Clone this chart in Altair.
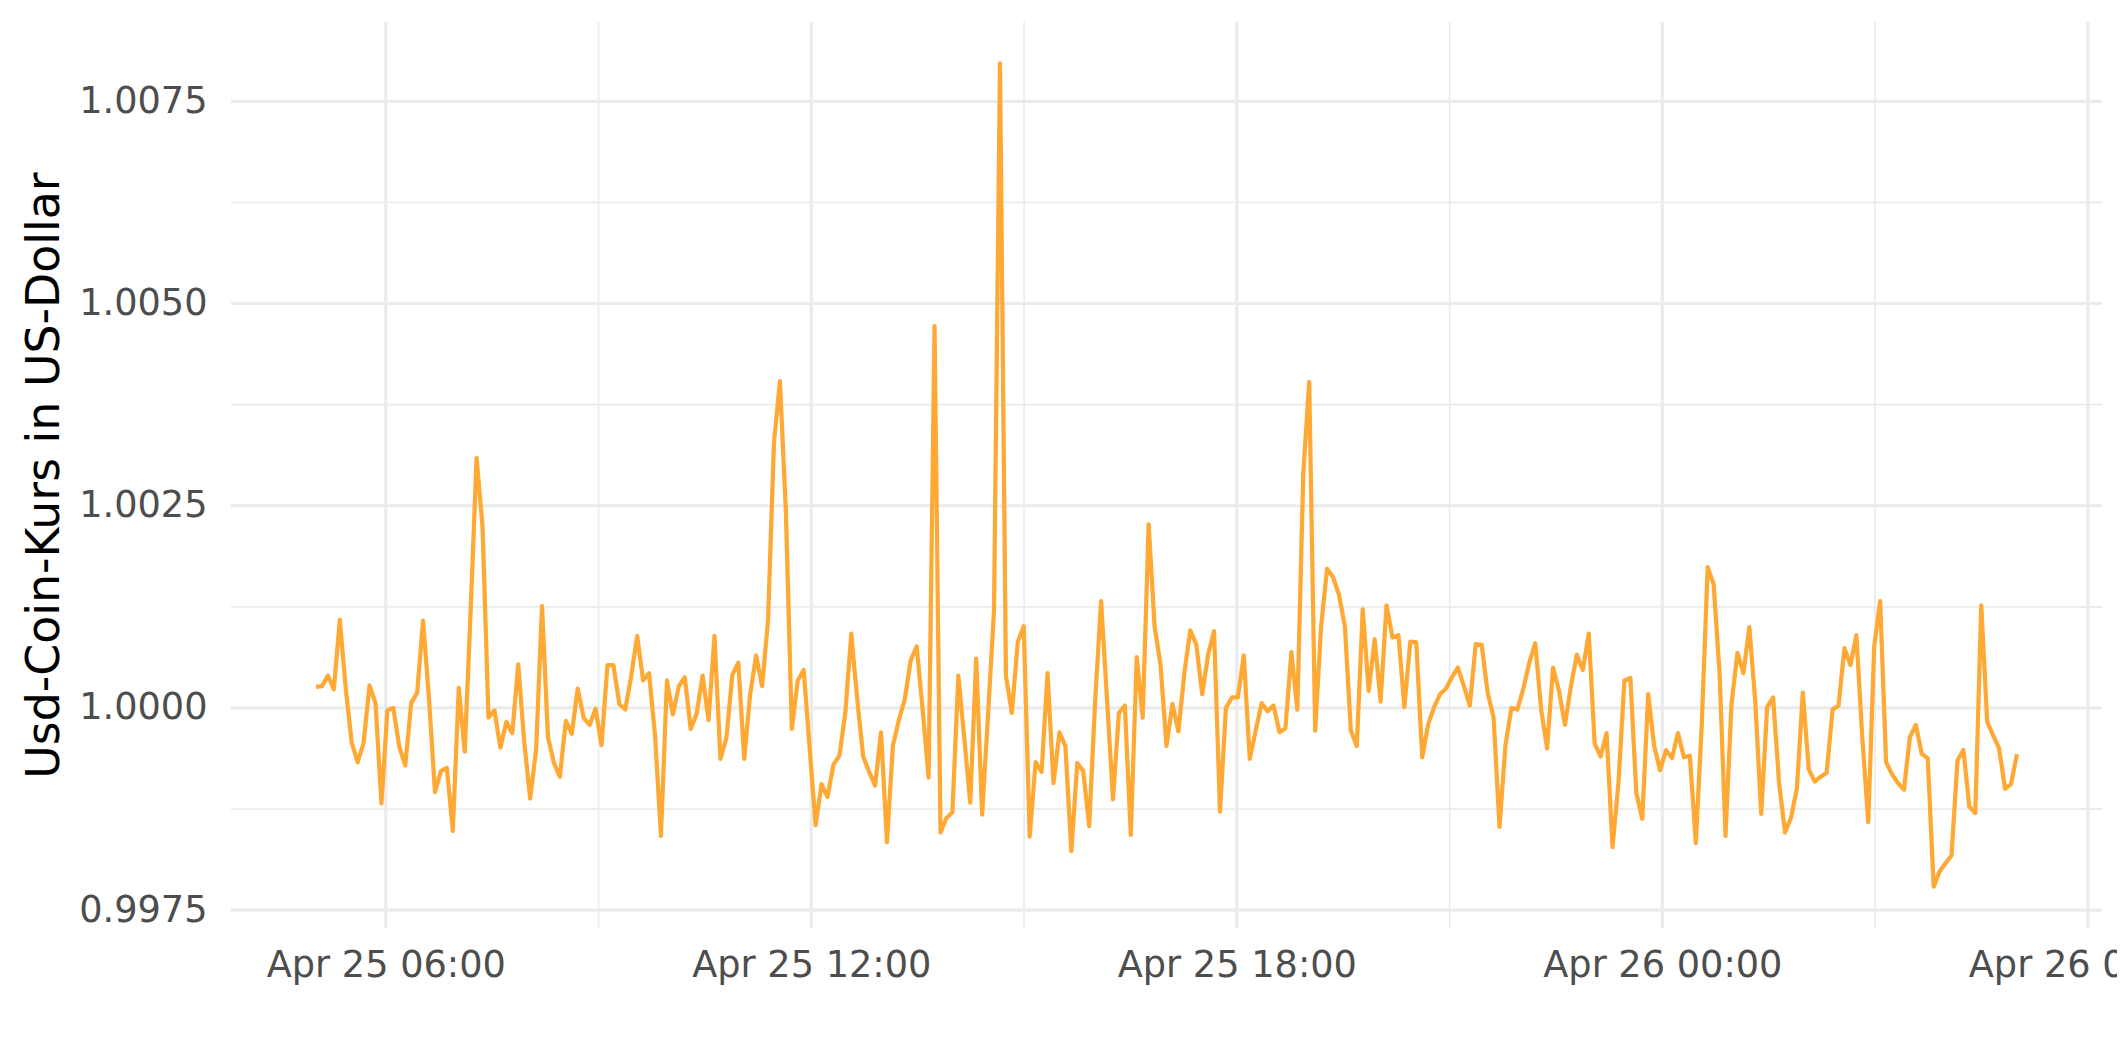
import altair as alt
import pandas as pd

# USD Coin price in USD, roughly every 5 minutes from Apr 25 05:01 to Apr 26 05:00
rate = [
    1.00026, 1.00027, 1.00040, 1.00023, 1.00109, 1.00024, 0.99957, 0.99933, 0.99957, 1.00028,
    1.00006, 0.99882, 0.99997, 1.00000, 0.99952, 0.99929, 1.00006, 1.00019, 1.00108, 1.00011,
    0.99896, 0.99922, 0.99926, 0.99848, 1.00025, 0.99946, 1.00121, 1.00309, 1.00224, 0.99988,
    0.99997, 0.99951, 0.99983, 0.99969, 1.00054, 0.99959, 0.99888, 0.99948, 1.00126, 0.99964,
    0.99932, 0.99915, 0.99984, 0.99968, 1.00024, 0.99988, 0.99979, 0.99999, 0.99954, 1.00053,
    1.00053, 1.00005, 0.99998, 1.00040, 1.00089, 1.00034, 1.00043, 0.99966, 0.99842, 1.00034,
    0.99992, 1.00027, 1.00038, 0.99974, 0.99993, 1.00040, 0.99985, 1.00089, 0.99937, 0.99963,
    1.00041, 1.00056, 0.99937, 1.00017, 1.00065, 1.00027, 1.00108, 1.00328, 1.00404, 1.00244,
    0.99974, 1.00034, 1.00047, 0.99950, 0.99855, 0.99906, 0.99890, 0.99930, 0.99941, 0.99994,
    1.00092, 1.00011, 0.99940, 0.99921, 0.99904, 0.99970, 0.99834, 0.99954, 0.99985, 1.00011,
    1.00059, 1.00076, 0.99998, 0.99914, 1.00472, 0.99846, 0.99864, 0.99871, 1.00040, 0.99963,
    0.99883, 1.00061, 0.99868, 0.99992, 1.00121, 1.00797, 1.00040, 0.99994, 1.00082, 1.00101,
    0.99841, 0.99933, 0.99921, 1.00043, 0.99907, 0.99970, 0.99953, 0.99823, 0.99932, 0.99922,
    0.99854, 1.00008, 1.00132, 1.00011, 0.99887, 0.99994, 1.00003, 0.99843, 1.00063, 0.99988,
    1.00227, 1.00101, 1.00053, 0.99953, 1.00005, 0.99971, 1.00043, 1.00096, 1.00079, 1.00017,
    1.00066, 1.00095, 0.99872, 1.00000, 1.00013, 1.00013, 1.00065, 0.99937, 0.99972, 1.00006,
    0.99996, 1.00003, 0.99970, 0.99975, 1.00069, 0.99998, 1.00290, 1.00403, 0.99972, 1.00101,
    1.00172, 1.00162, 1.00140, 1.00101, 0.99972, 0.99953, 1.00122, 1.00021, 1.00085, 1.00008,
    1.00127, 1.00087, 1.00090, 1.00001, 1.00082, 1.00081, 0.99939, 0.99980, 1.00001, 1.00017,
    1.00024, 1.00038, 1.00050, 1.00027, 1.00003, 1.00079, 1.00078, 1.00019, 0.99988, 0.99853,
    0.99954, 1.00000, 0.99998, 1.00024, 1.00056, 1.00080, 0.99998, 0.99950, 1.00050, 1.00021,
    0.99979, 1.00027, 1.00066, 1.00047, 1.00092, 0.99956, 0.99940, 0.99969, 0.99828, 0.99908,
    1.00034, 1.00037, 0.99895, 0.99863, 1.00017, 0.99953, 0.99923, 0.99948, 0.99938, 0.99969,
    0.99939, 0.99941, 0.99833, 0.99979, 1.00174, 1.00153, 1.00043, 0.99842, 1.00005, 1.00068,
    1.00043, 1.00100, 1.00008, 0.99869, 1.00001, 1.00013, 0.99908, 0.99846, 0.99864, 0.99901,
    1.00019, 0.99924, 0.99909, 0.99915, 0.99920, 0.99998, 1.00003, 1.00074, 1.00053, 1.00090,
    0.99963, 0.99859, 1.00076, 1.00132, 0.99933, 0.99918, 0.99907, 0.99899, 0.99964, 0.99979,
    0.99943, 0.99938, 0.99779, 0.99798, 0.99808, 0.99818, 0.99935, 0.99948, 0.99878, 0.99870,
    1.00127, 0.99983, 0.99966, 0.99950, 0.99900, 0.99906, 0.99943,
]
start_time = "2024-04-25 05:01"
end_time = "2024-04-26 05:00"

y_major = [0.9975, 1.0000, 1.0025, 1.0050, 1.0075]
y_minor = [0.99875, 1.00125, 1.00375, 1.00625]
x_major = ["2024-04-25T06:00:00", "2024-04-25T12:00:00", "2024-04-25T18:00:00",
           "2024-04-26T00:00:00", "2024-04-26T06:00:00"]
x_minor = ["2024-04-25T09:00:00", "2024-04-25T15:00:00", "2024-04-25T21:00:00",
           "2024-04-26T03:00:00"]

times = pd.date_range(start_time, end_time, periods=len(rate))
df = pd.DataFrame({"zeit": times.strftime("%Y-%m-%dT%H:%M:%S"), "kurs": rate})

FONT = "DejaVu Sans"
GRID = "#EBEBEB"

xscale = alt.Scale(domain=[alt.DateTime(year=2024, month=4, date=25, hours=3, minutes=49, seconds=3),
                           alt.DateTime(year=2024, month=4, date=26, hours=6, minutes=11, seconds=57)],
                   nice=False)
yscale = alt.Scale(domain=[0.99728, 1.00848], nice=False, zero=False)


def dt(s):
    d, t = s.split("T")
    y, m, dd = [int(v) for v in d.split("-")]
    hh, mm, ss = [int(v) for v in t.split(":")]
    return alt.DateTime(year=y, month=m, date=dd, hours=hh, minutes=mm, seconds=ss)


xgrid_major = alt.Chart(pd.DataFrame({"zeit": x_major})).mark_rule(color=GRID, strokeWidth=3.2).encode(
    x=alt.X("zeit:T", scale=xscale))
xgrid_minor = alt.Chart(pd.DataFrame({"zeit": x_minor})).mark_rule(color=GRID, strokeWidth=1.6).encode(
    x=alt.X("zeit:T", scale=xscale))
ygrid_major = alt.Chart(pd.DataFrame({"kurs": y_major})).mark_rule(color=GRID, strokeWidth=3.2).encode(
    y=alt.Y("kurs:Q", scale=yscale))
ygrid_minor = alt.Chart(pd.DataFrame({"kurs": y_minor})).mark_rule(color=GRID, strokeWidth=1.6).encode(
    y=alt.Y("kurs:Q", scale=yscale))

line = alt.Chart(df).mark_line(color="#FFA833", strokeWidth=4.2, strokeJoin="round",
                               strokeCap="butt").encode(
    x=alt.X("zeit:T", scale=xscale,
            axis=alt.Axis(values=[dt(s) for s in x_major], format="%b %d %H:%M", title=None,
                          grid=False, domain=False, ticks=False, tickSize=0,
                          labelFont=FONT, labelFontSize=36.7, labelColor="#4D4D4D",
                          labelPadding=19, labelOverlap=False, labelFlush=False,
                          labelLimit=0)),
    y=alt.Y("kurs:Q", scale=yscale,
            axis=alt.Axis(values=y_major, format=".4f", title="Usd-Coin-Kurs in US-Dollar",
                          grid=False, domain=False, ticks=False, tickSize=0,
                          labelFont=FONT, labelFontSize=36.7, labelColor="#4D4D4D",
                          labelPadding=24, labelOverlap=False, labelFlush=False,
                          labelLimit=0,
                          titleFont=FONT, titleFontSize=45.8, titleColor="#000000",
                          titleFontWeight="normal", titleAngle=270, titleAlign="center",
                          titleBaseline="alphabetic", titleX=-173, titleY=453)),
)

chart = alt.layer(xgrid_minor, xgrid_major, ygrid_minor, ygrid_major, line).properties(
    width=1871, height=906,
    autosize=alt.AutoSizeParams(type="none"),
    padding={"left": 223, "top": 14, "right": 15, "bottom": 100},
    background="white",
).configure_view(stroke=None)

chart.save("out.html", embed_options={"renderer": "svg", "actions": False})
